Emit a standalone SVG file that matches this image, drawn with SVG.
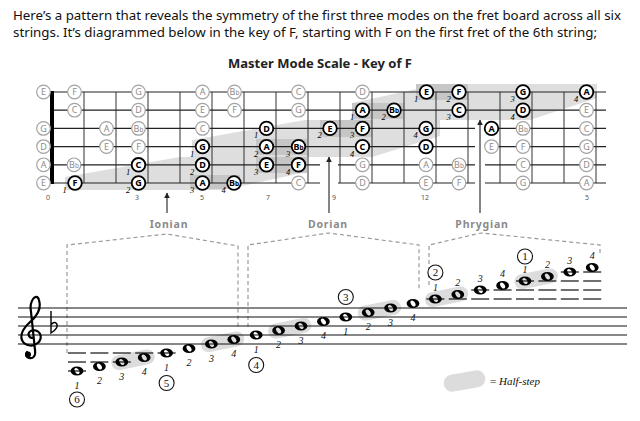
<svg xmlns="http://www.w3.org/2000/svg" width="640" height="421" viewBox="0 0 640 421">
<style>
.hdr{font-family:"Noto Sans","Liberation Sans",sans-serif;font-size:13px;fill:#111}
.ttl{font-family:"Noto Sans","Liberation Sans",sans-serif;font-size:12px;font-weight:bold;fill:#222;text-anchor:middle}
.band{fill:#dedede}
.half{fill:#c6c6c6}
.fret{stroke:#333;stroke-width:1}
.str{stroke:#222;stroke-width:1.2}
.g circle{fill:#fff;stroke:#a3a3a3;stroke-width:1.2}
.b circle{fill:#fff;stroke:#000;stroke-width:1.8}
.g text,.b text{font-family:"Noto Sans","Liberation Sans",sans-serif;font-size:9px;text-anchor:middle}
.g text{fill:#8c8c8c}
.b text{fill:#000;font-weight:bold}
.fl{font-size:6.5px}
.b .fn{font-family:"Liberation Serif",serif;font-style:italic;font-weight:normal;font-size:8.5px}
.fnum{font-family:"Noto Sans","Liberation Sans",sans-serif;font-size:7px;fill:#555;text-anchor:middle}
.lbl{font-family:"Noto Sans","Liberation Sans",sans-serif;font-size:10.5px;font-weight:bold;fill:#8a8a8a;letter-spacing:0.8px;text-anchor:middle}
.arr{stroke:#333;stroke-width:1.2;fill:none}
.halo{fill:#fff}
.dash{stroke:#9a9a9a;stroke-width:1.2;fill:none;stroke-dasharray:4 3}
.staff{stroke:#111;stroke-width:1.2}
.led{stroke:#111;stroke-width:1.2}
.pill{fill:#dcdcdc}
.sf{font-family:"Liberation Serif",serif;font-style:italic;font-size:10px;fill:#111;text-anchor:middle}
.cn circle{fill:#fff;stroke:#111;stroke-width:1.1}
.cn text{font-family:"Liberation Serif",serif;font-size:11px;fill:#111;text-anchor:middle}
.leg{font-family:"Liberation Serif",serif;font-size:11px;fill:#111}
</style>
<defs>
<marker id="ah" viewBox="0 0 10 10" refX="9" refY="5" markerWidth="6" markerHeight="7" orient="auto" markerUnits="userSpaceOnUse"><path d="M0,0 L10,5 L0,10 z" fill="#222"/></marker>
<path id="wn" fill="#000" fill-rule="evenodd" d="M-6.4,0 A6.4,4.5 0 1,0 6.4,0 A6.4,4.5 0 1,0 -6.4,0 Z M1.64,-1.15 A2,3.3 -35 1,0 -1.64,1.15 A2,3.3 -35 1,0 1.64,-1.15 Z"/>
<rect id="pl" x="-22" y="-7.5" width="44" height="15" rx="7.5"/>
</defs>

<g id="header">
<text class="hdr" x="13" y="20" textLength="608" lengthAdjust="spacingAndGlyphs">Here’s a pattern that reveals the symmetry of the first three modes on the fret board across all six</text>
<text class="hdr" x="13" y="37" textLength="584" lengthAdjust="spacingAndGlyphs">strings. It’s diagrammed below in the key of F, starting with F on the first fret of the 6th string;</text>
<text class="ttl" x="320" y="67.5" textLength="184" lengthAdjust="spacingAndGlyphs">Master Mode Scale - Key of F</text>
</g>

<g id="fretboard">
<polygon class="band" points="65,190 65,177 180,157 307,157 307,172 223,190"/>
<polygon class="band" points="192,157 192,140 305,120 440,120 440,136 372,157"/>
<polygon class="band" points="352,120 352,103 440,84 597,84 597,98 530,120"/>
<rect class="half" x="190" y="175" width="50" height="14"/>
<rect class="half" x="256" y="157" width="51" height="16"/>
<rect class="half" x="256" y="139" width="51" height="16"/>
<rect class="half" x="320" y="120" width="52" height="17"/>
<rect class="half" x="352" y="103" width="52" height="16"/>
<rect class="half" x="416" y="84" width="52" height="16"/>
<g class="fret">
<line x1="84" y1="92" x2="84" y2="183"/><line x1="116" y1="92" x2="116" y2="183"/><line x1="148" y1="92" x2="148" y2="183"/><line x1="180" y1="92" x2="180" y2="183"/><line x1="212" y1="92" x2="212" y2="183"/><line x1="244" y1="92" x2="244" y2="183"/><line x1="276" y1="92" x2="276" y2="183"/><line x1="308" y1="92" x2="308" y2="183"/><line x1="340" y1="92" x2="340" y2="183"/><line x1="372" y1="92" x2="372" y2="183"/><line x1="404" y1="92" x2="404" y2="183"/><line x1="436" y1="92" x2="436" y2="183"/><line x1="468" y1="92" x2="468" y2="183"/><line x1="500" y1="92" x2="500" y2="183"/><line x1="532" y1="92" x2="532" y2="183"/><line x1="564" y1="92" x2="564" y2="183"/><line x1="596" y1="92" x2="596" y2="183"/>
</g>
<g class="str">
<line x1="52" y1="92" x2="606" y2="92"/><line x1="52" y1="110.2" x2="606" y2="110.2"/><line x1="52" y1="128.4" x2="606" y2="128.4"/><line x1="52" y1="146.6" x2="606" y2="146.6"/><line x1="52" y1="164.8" x2="606" y2="164.8"/><line x1="52" y1="183" x2="606" y2="183"/>
</g>
<rect x="50" y="91" width="4" height="93" fill="#000"/>
<g class="fnum">
<text x="48" y="199.5">0</text><text x="137" y="199.5">3</text><text x="202" y="199.5">5</text><text x="268" y="199.5">7</text><text x="334" y="199.5">9</text><text x="425" y="199.5">12</text><text x="587" y="199.5">5</text>
</g>
</g>

<g id="connectors">
<rect class="halo" x="320" y="159" width="18" height="36"/>
<rect class="halo" x="475" y="121" width="10" height="74"/>
<line class="arr" x1="167" y1="213" x2="167" y2="193" marker-end="url(#ah)"/>
<line class="arr" x1="329" y1="213" x2="329" y2="157" marker-end="url(#ah)"/>
<line class="arr" x1="480" y1="213" x2="480" y2="120" marker-end="url(#ah)"/>
<path class="dash" d="M67,353 V245 L167,234 L238,246 V327"/>
<path class="dash" d="M248,327 V245 L329,233 L419,245 V290"/>
<path class="dash" d="M429,285 V245 L481,233 L600,245 V253"/>
</g>

<g id="labels">
<text class="lbl" x="169" y="228">Ionian</text>
<text class="lbl" x="328" y="228">Dorian</text>
<text class="lbl" x="482" y="228">Phrygian</text>
</g>

<g id="s1">
<g id="s1-0" class="g" transform="translate(43.5,92)"><circle r="6.8"/><text y="3.2">E</text></g>
<g id="s1-1" class="g" transform="translate(74.5,92)"><circle r="6.8"/><text y="3.2">F</text></g>
<g id="s1-3" class="g" transform="translate(138.5,92)"><circle r="6.8"/><text y="3.2">G</text></g>
<g id="s1-5" class="g" transform="translate(202.5,92)"><circle r="6.8"/><text y="3.2">A</text></g>
<g id="s1-6" class="g" transform="translate(234.5,92)"><circle r="6.8"/><text y="3.2">B<tspan class="fl">b</tspan></text></g>
<g id="s1-8" class="g" transform="translate(298.5,92)"><circle r="6.8"/><text y="3.2">C</text></g>
<g id="s1-10" class="g" transform="translate(362.5,92)"><circle r="6.8"/><text y="3.2">D</text></g>
<g id="s1-12" class="b" transform="translate(426.5,92)"><circle r="6.8"/><text y="3.2">E</text><text class="fn" x="-10.5" y="10">1</text></g>
<g id="s1-13" class="b" transform="translate(459,92)"><circle r="6.8"/><text y="3.2">F</text><text class="fn" x="-10.5" y="10">2</text></g>
<g id="s1-15" class="b" transform="translate(523,92)"><circle r="6.8"/><text y="3.2">G</text><text class="fn" x="-10.5" y="10">3</text></g>
<g id="s1-17" class="b" transform="translate(586.5,92)"><circle r="6.8"/><text y="3.2">A</text><text class="fn" x="-10.5" y="10">4</text></g>
</g>
<g id="s2">
<g id="s2-1" class="g" transform="translate(74.5,110.2)"><circle r="6.8"/><text y="3.2">C</text></g>
<g id="s2-3" class="g" transform="translate(138.5,110.2)"><circle r="6.8"/><text y="3.2">D</text></g>
<g id="s2-5" class="g" transform="translate(202.5,110.2)"><circle r="6.8"/><text y="3.2">E</text></g>
<g id="s2-6" class="g" transform="translate(234.5,110.2)"><circle r="6.8"/><text y="3.2">F</text></g>
<g id="s2-8" class="g" transform="translate(298.5,110.2)"><circle r="6.8"/><text y="3.2">G</text></g>
<g id="s2-10" class="b" transform="translate(362.5,110.2)"><circle r="6.8"/><text y="3.2">A</text><text class="fn" x="-10.5" y="10">1</text></g>
<g id="s2-11" class="b" transform="translate(394,110.2)"><circle r="6.8"/><text y="3.2">B<tspan class="fl">b</tspan></text><text class="fn" x="-10.5" y="10">2</text></g>
<g id="s2-13" class="b" transform="translate(459,110.2)"><circle r="6.8"/><text y="3.2">C</text><text class="fn" x="-10.5" y="10">3</text></g>
<g id="s2-15" class="b" transform="translate(523,110.2)"><circle r="6.8"/><text y="3.2">D</text><text class="fn" x="-10.5" y="10">4</text></g>
<g id="s2-17" class="g" transform="translate(586.5,110.2)"><circle r="6.8"/><text y="3.2">E</text></g>
</g>
<g id="s3">
<g id="s3-0" class="g" transform="translate(43.5,128.4)"><circle r="6.8"/><text y="3.2">G</text></g>
<g id="s3-2" class="g" transform="translate(106.5,128.4)"><circle r="6.8"/><text y="3.2">A</text></g>
<g id="s3-3" class="g" transform="translate(138.5,128.4)"><circle r="6.8"/><text y="3.2">B<tspan class="fl">b</tspan></text></g>
<g id="s3-5" class="g" transform="translate(202.5,128.4)"><circle r="6.8"/><text y="3.2">C</text></g>
<g id="s3-7" class="b" transform="translate(266.5,128.4)"><circle r="6.8"/><text y="3.2">D</text><text class="fn" x="-10.5" y="10">1</text></g>
<g id="s3-9" class="b" transform="translate(330,128.4)"><circle r="6.8"/><text y="3.2">E</text><text class="fn" x="-10.5" y="10">2</text></g>
<g id="s3-10" class="b" transform="translate(362.5,128.4)"><circle r="6.8"/><text y="3.2">F</text><text class="fn" x="-10.5" y="10">3</text></g>
<g id="s3-12" class="b" transform="translate(426,128.4)"><circle r="6.8"/><text y="3.2">G</text><text class="fn" x="-10.5" y="10">4</text></g>
<g id="s3-14" class="b" transform="translate(491.5,128.4)"><circle r="6.8"/><text y="3.2">A</text></g>
<g id="s3-15" class="g" transform="translate(523,128.4)"><circle r="6.8"/><text y="3.2">B<tspan class="fl">b</tspan></text></g>
<g id="s3-17" class="g" transform="translate(586.5,128.4)"><circle r="6.8"/><text y="3.2">C</text></g>
</g>
<g id="s4">
<g id="s4-0" class="g" transform="translate(43.5,146.6)"><circle r="6.8"/><text y="3.2">D</text></g>
<g id="s4-2" class="g" transform="translate(106.5,146.6)"><circle r="6.8"/><text y="3.2">E</text></g>
<g id="s4-3" class="g" transform="translate(138.5,146.6)"><circle r="6.8"/><text y="3.2">F</text></g>
<g id="s4-5" class="b" transform="translate(202.5,146.6)"><circle r="6.8"/><text y="3.2">G</text><text class="fn" x="-10.5" y="10">1</text></g>
<g id="s4-7" class="b" transform="translate(266.5,146.6)"><circle r="6.8"/><text y="3.2">A</text><text class="fn" x="-10.5" y="10">2</text></g>
<g id="s4-8" class="b" transform="translate(298.5,146.6)"><circle r="6.8"/><text y="3.2">B<tspan class="fl">b</tspan></text><text class="fn" x="-10.5" y="10">3</text></g>
<g id="s4-10" class="b" transform="translate(362.5,146.6)"><circle r="6.8"/><text y="3.2">C</text><text class="fn" x="-10.5" y="10">4</text></g>
<g id="s4-12" class="b" transform="translate(426,146.6)"><circle r="6.8"/><text y="3.2">D</text></g>
<g id="s4-14" class="g" transform="translate(491.5,146.6)"><circle r="6.8"/><text y="3.2">E</text></g>
<g id="s4-15" class="g" transform="translate(523,146.6)"><circle r="6.8"/><text y="3.2">F</text></g>
<g id="s4-17" class="g" transform="translate(586.5,146.6)"><circle r="6.8"/><text y="3.2">G</text></g>
</g>
<g id="s5">
<g id="s5-0" class="g" transform="translate(43.5,164.8)"><circle r="6.8"/><text y="3.2">A</text></g>
<g id="s5-1" class="g" transform="translate(74,164.8)"><circle r="6.8"/><text y="3.2">B<tspan class="fl">b</tspan></text></g>
<g id="s5-3" class="b" transform="translate(138.5,164.8)"><circle r="6.8"/><text y="3.2">C</text><text class="fn" x="-10.5" y="10">1</text></g>
<g id="s5-5" class="b" transform="translate(202.5,164.8)"><circle r="6.8"/><text y="3.2">D</text><text class="fn" x="-10.5" y="10">2</text></g>
<g id="s5-7" class="b" transform="translate(266.5,164.8)"><circle r="6.8"/><text y="3.2">E</text><text class="fn" x="-10.5" y="10">3</text></g>
<g id="s5-8" class="b" transform="translate(298.5,164.8)"><circle r="6.8"/><text y="3.2">F</text><text class="fn" x="-10.5" y="10">4</text></g>
<g id="s5-10" class="g" transform="translate(362.5,164.8)"><circle r="6.8"/><text y="3.2">G</text></g>
<g id="s5-12" class="g" transform="translate(426,164.8)"><circle r="6.8"/><text y="3.2">A</text></g>
<g id="s5-13" class="g" transform="translate(459,164.8)"><circle r="6.8"/><text y="3.2">B<tspan class="fl">b</tspan></text></g>
<g id="s5-15" class="g" transform="translate(523,164.8)"><circle r="6.8"/><text y="3.2">C</text></g>
<g id="s5-17" class="g" transform="translate(586.5,164.8)"><circle r="6.8"/><text y="3.2">D</text></g>
</g>
<g id="s6">
<g id="s6-0" class="g" transform="translate(43.5,183)"><circle r="6.8"/><text y="3.2">E</text></g>
<g id="s6-1" class="b" transform="translate(75,183)"><circle r="6.8"/><text y="3.2">F</text><text class="fn" x="-10.5" y="10">1</text></g>
<g id="s6-3" class="b" transform="translate(138.5,183)"><circle r="6.8"/><text y="3.2">G</text><text class="fn" x="-10.5" y="10">2</text></g>
<g id="s6-5" class="b" transform="translate(202.5,183)"><circle r="6.8"/><text y="3.2">A</text><text class="fn" x="-10.5" y="10">3</text></g>
<g id="s6-6" class="b" transform="translate(234,183)"><circle r="6.8"/><text y="3.2">B<tspan class="fl">b</tspan></text><text class="fn" x="-10.5" y="10">4</text></g>
<g id="s6-8" class="g" transform="translate(298.5,183)"><circle r="6.8"/><text y="3.2">C</text></g>
<g id="s6-10" class="g" transform="translate(362.5,183)"><circle r="6.8"/><text y="3.2">D</text></g>
<g id="s6-12" class="g" transform="translate(426,183)"><circle r="6.8"/><text y="3.2">E</text></g>
<g id="s6-13" class="g" transform="translate(459,183)"><circle r="6.8"/><text y="3.2">F</text></g>
<g id="s6-15" class="g" transform="translate(523,183)"><circle r="6.8"/><text y="3.2">G</text></g>
<g id="s6-17" class="g" transform="translate(586.5,183)"><circle r="6.8"/><text y="3.2">A</text></g>
</g>

<g id="staff">
<g class="pill">
<use href="#pl" transform="translate(133,359.75) rotate(-11.3)"/>
<use href="#pl" transform="translate(222.6,341.75) rotate(-11.3)"/>
<use href="#pl" transform="translate(289.8,328.25) rotate(-11.3)"/>
<use href="#pl" transform="translate(379.4,310.25) rotate(-11.3)"/>
<use href="#pl" transform="translate(446.6,296.75) rotate(-11.3)"/>
<use href="#pl" transform="translate(536.2,278.75) rotate(-11.3)"/>
</g>
<g class="staff">
<line x1="18" y1="308" x2="627" y2="308"/><line x1="18" y1="317" x2="627" y2="317"/><line x1="18" y1="326" x2="627" y2="326"/><line x1="18" y1="335" x2="627" y2="335"/><line x1="18" y1="344" x2="627" y2="344"/>
</g>
<g id="clef">
<path d="M33,338 C29,338 27,334 30,331.5 C33,329 39,330 40.5,335 C42,341 36,346 30,345.5 C23,345 20,339 22,333 C24,326 31,322 35,317 C39,312 41,306 39,300 C38,296 35,296 33,299 C31,302 30,307 31,312 L35,350 C36,356 33,359 29,358 C26,357 25,354 27,352" fill="none" stroke="#000" stroke-width="2.2" stroke-linecap="round"/>
<circle cx="28" cy="354.5" r="3" fill="#000"/>
</g>
<path id="flat" d="M51,311 V333 C56,330 58.5,326 56.5,323.5 C54.5,321.5 52,323 51,325" fill="none" stroke="#000" stroke-width="1.4"/>
<g class="led">
<line x1="68" y1="353" x2="86" y2="353"/><line x1="90.4" y1="353" x2="108.4" y2="353"/><line x1="112.8" y1="353" x2="130.8" y2="353"/><line x1="135.2" y1="353" x2="153.2" y2="353"/><line x1="157.6" y1="353" x2="175.6" y2="353"/>
<line x1="68" y1="362" x2="86" y2="362"/><line x1="90.4" y1="362" x2="108.4" y2="362"/><line x1="112.8" y1="362" x2="130.8" y2="362"/>
<line x1="68" y1="371" x2="86" y2="371"/>
<line x1="426.4" y1="299" x2="444.4" y2="299"/><line x1="448.8" y1="299" x2="466.8" y2="299"/><line x1="471.2" y1="299" x2="489.2" y2="299"/><line x1="493.6" y1="299" x2="511.6" y2="299"/><line x1="516" y1="299" x2="534" y2="299"/><line x1="538.4" y1="299" x2="556.4" y2="299"/><line x1="560.8" y1="299" x2="578.8" y2="299"/><line x1="583.2" y1="299" x2="601.2" y2="299"/>
<line x1="471.2" y1="290" x2="489.2" y2="290"/><line x1="493.6" y1="290" x2="511.6" y2="290"/><line x1="516" y1="290" x2="534" y2="290"/><line x1="538.4" y1="290" x2="556.4" y2="290"/><line x1="560.8" y1="290" x2="578.8" y2="290"/><line x1="583.2" y1="290" x2="601.2" y2="290"/>
<line x1="516" y1="281" x2="534" y2="281"/><line x1="538.4" y1="281" x2="556.4" y2="281"/><line x1="560.8" y1="281" x2="578.8" y2="281"/><line x1="583.2" y1="281" x2="601.2" y2="281"/>
<line x1="560.8" y1="272" x2="578.8" y2="272"/><line x1="583.2" y1="272" x2="601.2" y2="272"/>
</g>
<g id="notes">
<use href="#wn" x="77" y="371"/><use href="#wn" x="99.4" y="366.5"/><use href="#wn" x="121.8" y="362"/><use href="#wn" x="144.2" y="357.5"/>
<use href="#wn" x="166.6" y="353"/><use href="#wn" x="189" y="348.5"/><use href="#wn" x="211.4" y="344"/><use href="#wn" x="233.8" y="339.5"/>
<use href="#wn" x="256.2" y="335"/><use href="#wn" x="278.6" y="330.5"/><use href="#wn" x="301" y="326"/><use href="#wn" x="323.4" y="321.5"/>
<use href="#wn" x="345.8" y="317"/><use href="#wn" x="368.2" y="312.5"/><use href="#wn" x="390.6" y="308"/><use href="#wn" x="413" y="303.5"/>
<use href="#wn" x="435.4" y="299"/><use href="#wn" x="457.8" y="294.5"/><use href="#wn" x="480.2" y="290"/><use href="#wn" x="502.6" y="285.5"/>
<use href="#wn" x="525" y="281"/><use href="#wn" x="547.4" y="276.5"/><use href="#wn" x="569.8" y="272"/><use href="#wn" x="592.2" y="267.5"/>
</g>
<g id="fingers">
<text class="sf" x="77" y="388.5">1</text><text class="sf" x="99.4" y="384">2</text><text class="sf" x="121.8" y="379.5">3</text><text class="sf" x="144.2" y="375">4</text>
<text class="sf" x="166.6" y="370.5">1</text><text class="sf" x="189" y="366">2</text><text class="sf" x="211.4" y="361.5">3</text><text class="sf" x="233.8" y="357">4</text>
<text class="sf" x="256.2" y="352.5">1</text><text class="sf" x="278.6" y="348">2</text><text class="sf" x="301" y="343.5">3</text><text class="sf" x="323.4" y="339">4</text>
<text class="sf" x="345.8" y="334.5">1</text><text class="sf" x="368.2" y="330">2</text><text class="sf" x="390.6" y="325.5">3</text><text class="sf" x="413" y="321">4</text>
<text class="sf" x="435.4" y="290.5">1</text><text class="sf" x="457.8" y="286">2</text><text class="sf" x="480.2" y="281.5">3</text><text class="sf" x="502.6" y="277">4</text>
<text class="sf" x="525" y="272.5">1</text><text class="sf" x="547.4" y="268">2</text><text class="sf" x="569.8" y="263.5">3</text><text class="sf" x="592.2" y="259">4</text>
</g>
<g id="c6" class="cn" transform="translate(77,399.5)"><circle r="7.5"/><text y="3.8">6</text></g>
<g id="c5" class="cn" transform="translate(166.6,383)"><circle r="7.5"/><text y="3.8">5</text></g>
<g id="c4" class="cn" transform="translate(256.2,365)"><circle r="7.5"/><text y="3.8">4</text></g>
<g id="c3" class="cn" transform="translate(345.8,297)"><circle r="7.5"/><text y="3.8">3</text></g>
<g id="c2" class="cn" transform="translate(435.4,272.5)"><circle r="7.5"/><text y="3.8">2</text></g>
<g id="c1" class="cn" transform="translate(525,256.5)"><circle r="7.5"/><text y="3.8">1</text></g>
</g>

<g id="legend">
<rect class="pill" x="-21" y="-8.5" width="42" height="17" rx="8.5" transform="translate(464.5,381) rotate(-10)"/>
<text class="leg" x="490" y="385">= <tspan font-style="italic">Half-step</tspan></text>
</g>
</svg>
